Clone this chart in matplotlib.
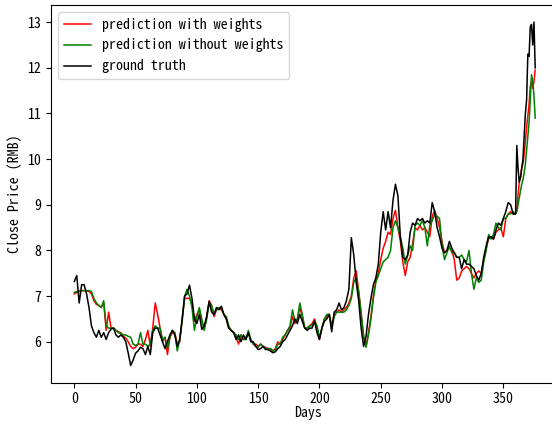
import numpy as np
import matplotlib.pyplot as plt

plt.rcParams['font.family'] = ['Noto Sans Mono CJK SC', 'Noto Sans CJK SC', 'DejaVu Sans']

# days: every 2nd day up to 358, then daily for the final run-up
days = list(range(0, 360, 2)) + list(range(360, 377))

truth = [7.32, 7.45, 6.85, 7.25, 7.25, 7.05, 6.75, 6.35, 6.2, 6.1,
         6.25, 6.1, 6.2, 6.05, 6.2, 6.28, 6.3, 6.15, 6.1, 6.15,
         6.1, 6.0, 5.75, 5.48, 5.6, 5.75, 5.8, 5.88, 5.85, 5.72,
         5.9, 5.72, 6.2, 6.3, 6.3, 6.15, 6.0, 5.85, 6.0, 6.15,
         6.25, 6.15, 5.9, 6.05, 6.5, 7.0, 7.05, 7.24, 6.95, 6.5,
         6.4, 6.6, 6.27, 6.35, 6.55, 6.88, 6.65, 6.6, 6.75, 6.7,
         6.78, 6.6, 6.5, 6.3, 6.25, 6.2, 6.05, 6.15, 6.0, 6.15,
         6.05, 6.2, 6.0, 6.0, 5.9, 5.83, 5.85, 5.9, 5.83, 5.83,
         5.8, 5.76, 5.78, 5.85, 5.9, 6.0, 6.05, 6.15, 6.25, 6.35,
         6.5, 6.4, 6.6, 6.45, 6.3, 6.25, 6.3, 6.3, 6.45, 6.2,
         6.05, 6.3, 6.45, 6.5, 6.6, 6.22, 6.65, 6.7, 6.85, 6.7,
         6.75, 6.9, 7.15, 8.28, 7.9, 7.3, 6.9, 6.3, 5.9, 6.12,
         6.6, 6.95, 7.25, 7.4, 7.7, 8.4, 8.85, 8.45, 8.85, 8.5,
         9.1, 9.45, 9.2, 8.3, 7.85, 7.8, 7.9, 8.4, 8.6, 8.55,
         8.7, 8.65, 8.7, 8.6, 8.65, 8.6, 9.05, 8.85, 8.5, 8.3,
         8.05, 7.95, 8.0, 8.2, 8.05, 7.95, 7.85, 7.85, 7.6, 7.8,
         7.7, 7.7, 7.65, 7.6, 7.45, 7.35, 7.5, 7.85, 8.1, 8.3,
         8.3, 8.25, 8.45, 8.6, 8.55, 8.7, 8.85, 9.05, 9.0, 8.8,
         8.8, 10.3, 9.8, 9.5, 9.6, 9.8, 10.0, 10.5, 11.0, 11.3,
         12.3, 12.25, 12.9, 12.95, 12.5, 13.0, 12.0]

pred_w = [7.05, 7.08, 7.1, 7.12, 7.12, 7.12, 7.1, 7.05, 6.9, 6.82,
          6.8, 6.75, 6.85, 6.25, 6.65, 6.3, 6.3, 6.25, 6.22, 6.2,
          6.12, 6.08, 6.0, 5.9, 5.85, 5.88, 5.95, 5.95, 5.9, 6.05,
          6.25, 5.9, 6.3, 6.85, 6.6, 6.3, 6.0, 6.1, 5.72, 6.1,
          6.2, 6.2, 5.95, 6.0, 6.5, 6.95, 6.95, 6.95, 6.85, 6.45,
          6.6, 6.7, 6.45, 6.3, 6.55, 6.9, 6.8, 6.55, 6.7, 6.75,
          6.7, 6.6, 6.5, 6.3, 6.25, 6.2, 6.1, 5.95, 6.15, 6.05,
          6.1, 6.2, 6.05, 5.95, 5.95, 5.9, 5.95, 5.9, 5.88, 5.85,
          5.85, 5.8, 5.85, 6.0, 5.95, 6.05, 6.15, 6.25, 6.3, 6.55,
          6.4, 6.5, 6.75, 6.55, 6.3, 6.3, 6.35, 6.4, 6.5, 6.3,
          6.05, 6.3, 6.5, 6.55, 6.6, 6.35, 6.6, 6.65, 6.7, 6.65,
          6.7, 6.75, 6.85, 7.0, 7.4, 7.55, 7.1, 6.6, 6.1, 5.9,
          6.2, 6.55, 7.0, 7.35, 7.5, 7.8, 8.05, 8.2, 8.4, 8.35,
          8.7, 8.88, 8.5, 8.2, 7.75, 7.45, 7.75, 7.85, 8.15, 8.5,
          8.45, 8.55, 8.45, 8.5, 8.4, 8.3, 8.75, 8.88, 8.7, 8.5,
          8.2, 7.95, 8.0, 8.05, 8.0, 7.8, 7.35, 7.4, 7.55, 7.6,
          7.65, 7.6, 7.5, 7.4, 7.5, 7.55, 7.5, 7.8, 8.05, 8.25,
          8.3, 8.25, 8.4, 8.45, 8.5, 8.3, 8.7, 8.8, 8.85, 8.8,
          8.8, 8.9, 9.2, 9.5, 9.6, 9.8, 9.9, 10.1, 10.4, 10.7,
          10.95, 11.2, 11.6, 11.7, 11.55, 11.7, 11.95]

pred_nw = [7.08, 7.1, 7.12, 7.12, 7.12, 7.12, 7.12, 7.1, 6.95, 6.85,
           6.8, 6.75, 6.9, 6.35, 6.3, 6.3, 6.3, 6.25, 6.2, 6.18,
           6.15, 6.15, 6.12, 6.1, 5.95, 5.92, 5.95, 6.2, 5.95, 5.95,
           5.9, 5.95, 6.25, 6.35, 6.3, 6.3, 6.05, 6.1, 5.85, 6.1,
           6.25, 6.2, 5.8, 6.05, 6.45, 7.0, 7.15, 7.0, 6.75, 6.25,
           6.55, 6.75, 6.5, 6.25, 6.5, 6.85, 6.8, 6.6, 6.7, 6.75,
           6.75, 6.6, 6.55, 6.35, 6.25, 6.2, 6.15, 6.05, 6.15, 6.05,
           6.05, 6.25, 6.05, 5.95, 5.9, 5.88, 5.95, 5.9, 5.85, 5.85,
           5.85, 5.8, 5.82, 5.95, 5.95, 6.1, 6.15, 6.25, 6.35, 6.7,
           6.45, 6.5, 6.85, 6.6, 6.3, 6.3, 6.35, 6.35, 6.45, 6.35,
           6.1, 6.3, 6.5, 6.6, 6.6, 6.3, 6.55, 6.65, 6.65, 6.65,
           6.65, 6.7, 6.8, 6.95, 7.3, 7.4, 7.1, 6.65, 6.15, 5.88,
           6.15, 6.5, 6.95, 7.3, 7.45, 7.6, 7.75, 7.8, 7.85, 8.0,
           8.5, 8.65, 8.5, 8.3, 8.05, 7.7, 7.9, 8.1, 8.0, 8.55,
           8.6, 8.55, 8.65, 8.5, 8.1, 8.55, 8.65, 8.8, 8.75, 8.7,
           8.1, 7.8, 7.95, 8.1, 7.95, 7.95, 7.85, 7.85, 7.9, 7.8,
           7.75, 8.0, 7.5, 7.15, 7.4, 7.3, 7.35, 7.75, 8.0, 8.35,
           8.25, 8.35, 8.6, 8.5, 8.45, 8.7, 8.7, 8.8, 8.8, 8.85,
           8.8, 8.85, 9.0, 9.15, 9.3, 9.45, 9.55, 9.7, 9.9, 10.2,
           10.5, 10.8, 11.3, 11.85, 11.7, 11.4, 10.9]

fig = plt.figure(figsize=(5.52, 4.24), dpi=100)
# the right side of the axes runs past the edge of the figure, as in the original crop
ax = fig.add_axes([0.0924, 0.0974, 0.93, 0.8908])

ax.plot(days, pred_w, color='red', lw=1.1, label='prediction with weights')
ax.plot(days, pred_nw, color='green', lw=1.1, label='prediction without weights')
ax.plot(days, truth, color='black', lw=1.1, label='ground truth')
ax.set_xlim(-19, 399.8)

ax.set_xlabel('Days', labelpad=0)
ax.set_ylabel('Close Price (RMB)')
ax.legend(loc='upper left')

fig.savefig('out.png', dpi=100)
